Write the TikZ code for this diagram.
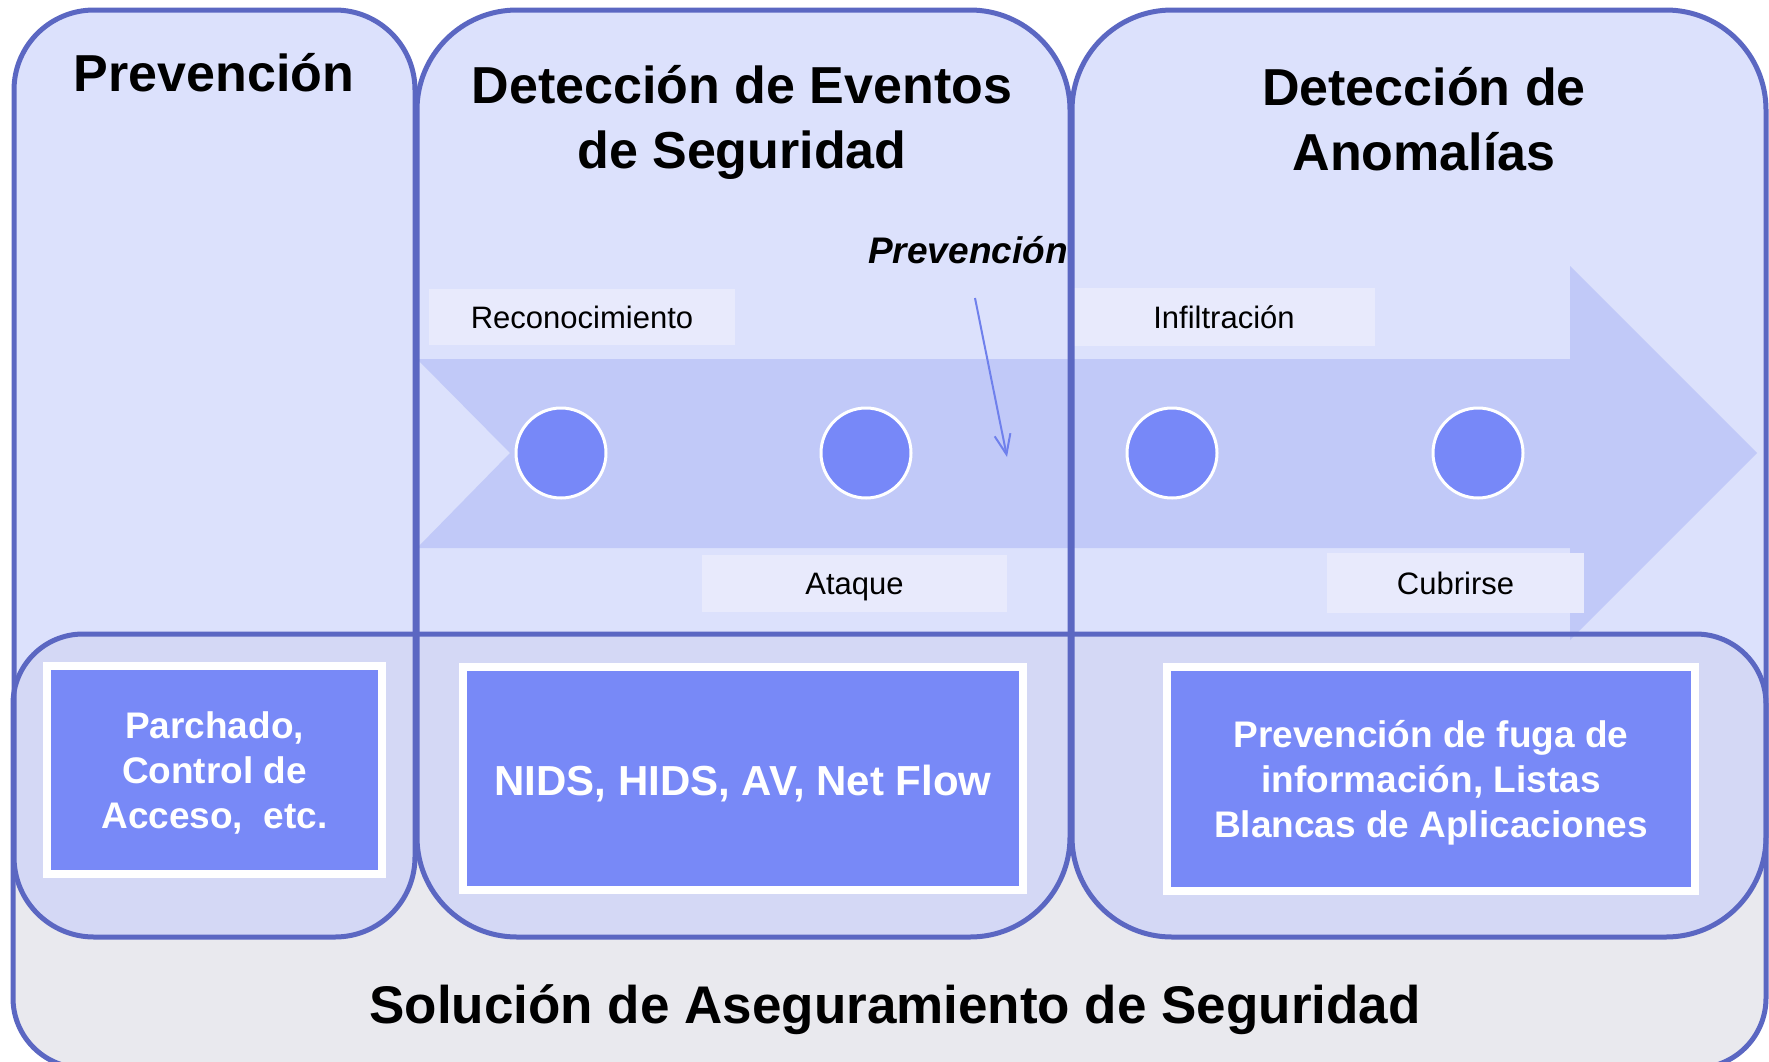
\documentclass[tikz,border=0pt]{standalone}
\usepackage{fontspec}
\setmainfont{Liberation Sans}
\usetikzlibrary{arrows.meta}
\definecolor{bordc}{HTML}{5B67C2}
\definecolor{panelblue}{HTML}{C6CEFA}
\definecolor{basegrey}{HTML}{E9E9EE}
\definecolor{arrowblue}{HTML}{B0BAF6}
\definecolor{labelfill}{HTML}{E8EAFC}
\definecolor{dotblue}{HTML}{7788F8}
\definecolor{boxblue}{HTML}{7889F7}
\definecolor{pointer}{HTML}{6F80EC}
\begin{document}
\begin{tikzpicture}[x=1pt,y=-1pt,
  border/.style={draw=bordc,line width=5pt},
  lbl/.style={fill=labelfill,inner sep=0pt,font=\fontsize{31}{31}\selectfont,text height=22pt,text depth=0pt},
  dot/.style={circle,fill=dotblue,draw=white,line width=3pt,minimum size=90pt,inner sep=0pt},
  solbox/.style={fill=boxblue,draw=white,line width=8pt,inner sep=0pt},
  title/.style={anchor=base,inner sep=0pt,font=\fontsize{52}{52}\selectfont\bfseries},
  boxtxt/.style={anchor=base,inner sep=0pt,text=white,font=\fontsize{37}{37}\selectfont\bfseries},
]
\useasboundingbox (0,0) rectangle (1769,1061);
\fill[white] (0,0) rectangle (1769,1061);
\clip (0,0) rectangle (1769,1061);
% panel fills
\fill[basegrey, rounded corners=70pt] (13,634) rectangle (1766,1068);
\fill[panelblue, fill opacity=0.6, rounded corners=80pt] (14,10) rectangle (415,937);
\fill[panelblue, fill opacity=0.6, rounded corners=100pt] (417,10) rectangle (1070,937);
\fill[panelblue, fill opacity=0.6, rounded corners=100pt] (1072,10) rectangle (1766,937);
% big arrow
\fill[arrowblue, fill opacity=0.6] (417,359) -- (1570,359) -- (1570,266) -- (1757,453)
  -- (1570,640) -- (1570,548) -- (417,548) -- (510,453) -- cycle;
% phase labels
\node[lbl, minimum width=306pt, minimum height=56pt] (reco) at (582,317) {Reconocimiento};
\node[lbl, minimum width=305pt, minimum height=57pt] (ataq) at (854.5,583.5) {Ataque};
\node[lbl, minimum width=302pt, minimum height=58pt] (infi) at (1224,317) {Infiltración};
\node[lbl, minimum width=257pt, minimum height=60pt] (cubr) at (1455.5,583) {Cubrirse};
% dots
\node[dot] (d1) at (561,453) {};
\node[dot] (d2) at (866,453) {};
\node[dot] (d3) at (1172,453) {};
\node[dot] (d4) at (1478,453) {};
% pointer
\node[anchor=base, inner sep=0pt, font=\fontsize{37}{37}\selectfont\bfseries\itshape] (pv) at (968,263) {Prevención};
\coordinate (pvs) at (975,298);
\coordinate (pve) at (1007,457);
\draw[pointer, line width=2pt, -{Straight Barb[length=20pt,width=16pt]}] (pvs) -- (pve);
% borders
\draw[border, rounded corners=70pt] (13,634) rectangle (1766,1068);
\draw[border, rounded corners=80pt] (14,10) rectangle (415,937);
\draw[border, rounded corners=100pt] (417,10) rectangle (1070,937);
\draw[border, rounded corners=100pt] (1072,10) rectangle (1766,937);
% titles
\node[title] (t1) at (214,91) {Prevención};
\node[title] (t2a) at (742,103) {Detección de Eventos};
\node[title] (t2b) at (742,168) {de Seguridad};
\node[title] (t3a) at (1424,105) {Detección de};
\node[title] (t3b) at (1424,170) {Anomalías};
% solution boxes
\node[solbox, minimum width=335pt, minimum height=208pt] (b1) at (214.5,770) {};
\node[solbox, minimum width=560pt, minimum height=223pt] (b2) at (743,778.5) {};
\node[solbox, minimum width=528pt, minimum height=224pt] (b3) at (1431,779) {};
\node[boxtxt] (b1a) at (214.5,738) {Parchado,};
\node[boxtxt] (b1b) at (214.5,783) {Control de};
\node[boxtxt] (b1c) at (214.5,828) {Acceso,\ \ etc.};
\node[boxtxt, font=\fontsize{42}{42}\selectfont\bfseries] (b2a) at (743,795) {NIDS, HIDS, AV, Net Flow};
\node[boxtxt] (b3a) at (1431,747) {Prevención de fuga de};
\node[boxtxt] (b3b) at (1431,792) {información, Listas};
\node[boxtxt] (b3c) at (1431,837) {Blancas de Aplicaciones};
% bottom title
\node[anchor=base, inner sep=0pt, font=\fontsize{53}{53}\selectfont\bfseries] (sol) at (895,1023) {Solución de Aseguramiento de Seguridad};
\end{tikzpicture}
\end{document}
